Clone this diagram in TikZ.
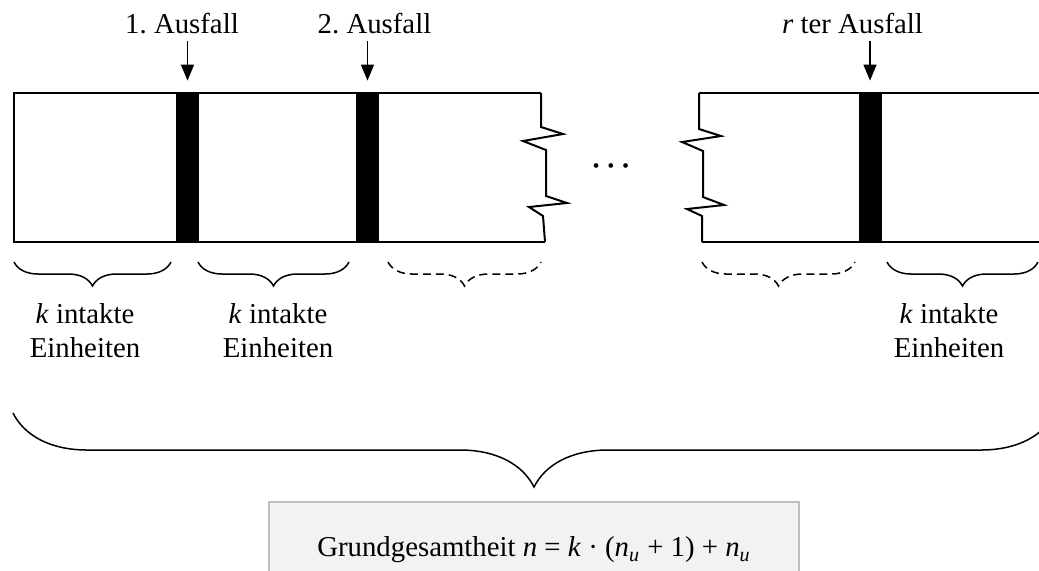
\documentclass[tikz,border=0pt]{standalone}
\usepackage{fontspec}
\setmainfont{Liberation Serif}
\usepackage{xcolor}
\usepackage{tikz}
\usetikzlibrary{arrows.meta,positioning,decorations.pathreplacing}
\definecolor{boxgray}{HTML}{F2F2F2}
\definecolor{rulegray}{HTML}{BFBFBF}
\frenchspacing

\begin{document}
\begin{tikzpicture}[
    x=0.5pt,y=-0.5pt,
    font=\fontsize{14.4}{17.3}\selectfont,
    strip/.style={line width=0.6pt},
    cut/.style={line width=1pt,line join=miter},
    failbar/.style={fill=black,draw=none,minimum width=11.5pt,minimum height=74.5pt,inner sep=0pt},
    faillabel/.style={anchor=base,inner sep=3.5pt},
    arrow/.style={-{Triangle[length=8pt,width=6.5pt]},line width=0.7pt,shorten >=6pt},
    unitbrace/.style={decorate,decoration={brace,mirror,amplitude=12pt},line width=0.75pt},
    restbrace/.style={unitbrace,dash pattern=on 4pt off 2.5pt},
    totalbrace/.style={unitbrace,decoration={amplitude=37pt}},
    unitlabel/.style={anchor=north,align=center},
    sumbox/.style={draw=rulegray,line width=0.8pt,fill=boxgray,minimum width=265pt,minimum height=48pt}
  ]
    \useasboundingbox (0,0) rectangle (1039,570);

    \draw[strip] (541,93) -- (14,93) -- (14,242) -- (545,242);
    \draw[cut] (541,93) -- (541,127) -- (563,134) -- (523,141) -- (546,150) -- (546,196) -- (567,203) -- (529,207) -- (543,216) -- (545,242);
    \draw[strip] (1045,93) -- (699,93);
    \draw[strip] (702,242) -- (1045,242);
    \draw[cut] (699,93) -- (699,129) -- (721,136) -- (682,142) -- (703,151) -- (703,197) -- (724,205) -- (687,209) -- (702,216) -- (702,242);
    \node[anchor=base] (gap) at (611,175) {\textbf{·\hspace{2.6pt}·\hspace{2.6pt}·}};

    \node[failbar] (bar1) at (187.5,167.5) {};
    \node[failbar] (bar2) at (367.5,167.5) {};
    \node[failbar] (barr) at (870,167.5) {};

    \node[faillabel] (fail1) at (182,33) {1. Ausfall};
    \node[faillabel] (fail2) at (374.5,33) {2. Ausfall};
    \node[faillabel] (failr) at (852.5,33) {\textit{r} ter Ausfall};
    \draw[arrow] (fail1.south -| bar1.north) -- (bar1.north);
    \draw[arrow] (fail2.south -| bar2.north) -- (bar2.north);
    \draw[arrow] (failr.south -| barr.north) -- (barr.north);

    \draw[unitbrace] (14,262) -- (171,262);
    \draw[unitbrace] (198,262) -- (349,262);
    \draw[restbrace] (388,262) -- (541,262);
    \draw[restbrace] (702,262) -- (855,262);
    \draw[unitbrace] (887,262) -- (1038,262);

    \node[unitlabel] (units1) at (85,296) {\textit{k} intakte\\Einheiten};
    \node[unitlabel] (units2) at (278,296) {\textit{k} intakte\\Einheiten};
    \node[unitlabel] (unitsr) at (949,296) {\textit{k} intakte\\Einheiten};

    \draw[totalbrace] (13,413) -- (1055,413);
    \node[sumbox,anchor=north] (total) at (534,501) {Grundgesamtheit \textit{n} = \textit{k} · (\textit{n}\textsubscript{\textit{u}} + 1) + \textit{n}\textsubscript{\textit{u}}};
  \end{tikzpicture}
\end{document}
